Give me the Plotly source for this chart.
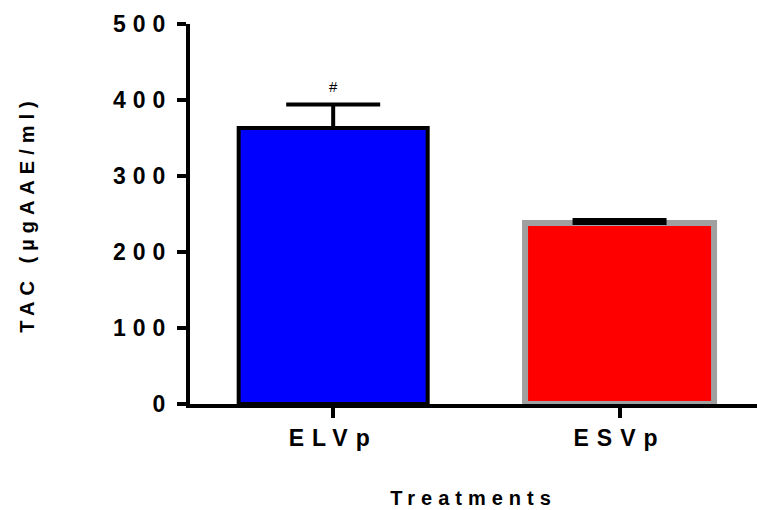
import plotly.graph_objects as go

categories = ["ELVp", "ESVp"]
means = [363, 238]
errors = [31, 4]
fill_colors = ["#0000ff", "#ff0000"]
edge_colors = ["#000000", "#a0a0a0"]
y_ticks = [0, 100, 200, 300, 400, 500]
sig_marks = ["#", ""]
sig_y = [418, None]

def spaced(t, px):
    return f'<span style="letter-spacing:{px}px">{t}</span>'

fig = go.Figure()
fig.add_trace(go.Bar(
    x=categories, y=means, width=0.66,
    marker=dict(color=fill_colors, line=dict(color=edge_colors, width=[4, 6])),
    error_y=dict(type="data", array=errors, arrayminus=[0, 0], symmetric=False,
                 color="black", thickness=4, width=47, visible=True),
    showlegend=False,
))

for c, m, yv in zip(categories, sig_marks, sig_y):
    if m:
        fig.add_annotation(x=c, y=yv, text=m, showarrow=False,
                           font=dict(family="Liberation Sans, Arial", size=15, color="black"))

fig.update_layout(
    width=757, height=510,
    margin=dict(l=190, r=0, t=24, b=106),
    plot_bgcolor="white", paper_bgcolor="white",
    font=dict(family="Liberation Sans, Arial", color="black"),
    xaxis=dict(
        range=[-0.5, 1.48],
        tickvals=categories,
        ticktext=[spaced(f"<b>{c}</b>", 8) for c in categories],
        tickfont=dict(size=23, family="Liberation Sans, Arial"),
        showline=True, linecolor="black", linewidth=4,
        ticks="outside", ticklen=10, tickwidth=4, tickcolor="black",
        showgrid=False, zeroline=False,
        title=dict(text=spaced("<b>Treatments</b>", 6),
                   font=dict(size=20, family="Liberation Sans, Arial"), standoff=42),
    ),
    yaxis=dict(
        range=[0, 500],
        tickvals=y_ticks,
        ticktext=[spaced(f"<b>{v}</b>", 7) for v in y_ticks],
        tickfont=dict(size=23, family="Liberation Sans, Arial"),
        showline=True, linecolor="black", linewidth=4,
        ticks="outside", ticklen=9, tickwidth=4, tickcolor="black",
        showgrid=False, zeroline=False,
        title=dict(text=spaced("<b>TAC (µgAAE/ml)</b>", 6),
                   font=dict(size=20, family="Liberation Sans, Arial"), standoff=74),
    ),
)

fig.write_html("out.html")
